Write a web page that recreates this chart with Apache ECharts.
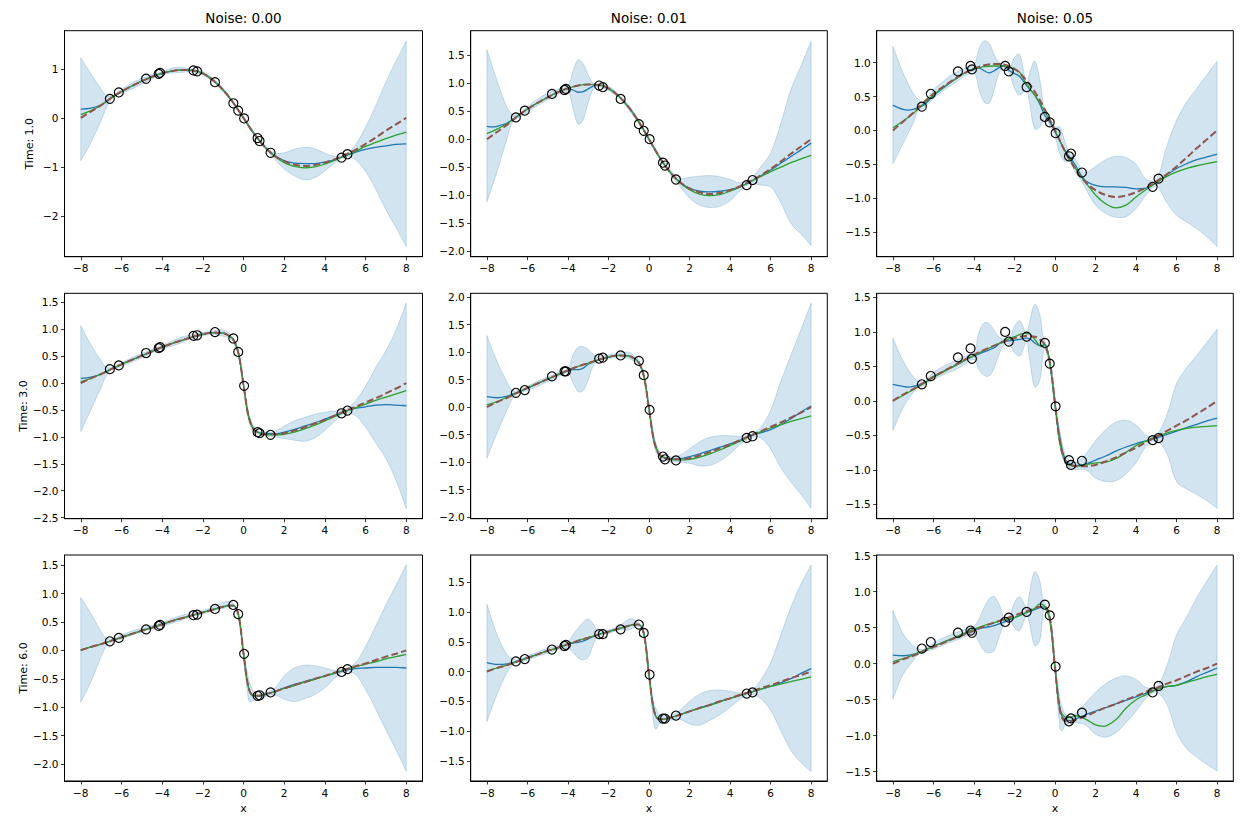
<!DOCTYPE html>
<html><head><meta charset="utf-8">
<script src="https://cdn.jsdelivr.net/npm/echarts@6/dist/echarts.min.js"></script>
<style>html,body{margin:0;padding:0;background:#fff}#c{width:1246px;height:830px}</style>
</head><body><div id="c"></div>
<script>
// ---------- DATA ----------
const X_TICKS = [-8,-6,-4,-2,0,2,4,6,8];
const X_LIM = [-8.8, 8.8];
const COL_TITLES = ['Noise: 0.00','Noise: 0.01','Noise: 0.05'];
const ROW_LABELS = ['Time: 1.0','Time: 3.0','Time: 6.0'];

// observation x positions (same in every panel)
const PX = [-6.57,-6.13,-4.79,-4.17,-4.10,-2.46,-2.28,-1.40,-0.50,-0.26,0.03,0.69,0.79,1.33,4.82,5.11];
const PY_11 = [0.39,0.52,0.80,0.90,0.92,0.97,0.95,0.73,0.30,0.15,-0.01,-0.41,-0.47,-0.71,-0.81,-0.74];
const PY_12 = [0.39,0.51,0.81,0.88,0.90,0.96,0.93,0.72,0.27,0.15,0.00,-0.42,-0.47,-0.72,-0.82,-0.73];
const PY_13 = [0.35,0.54,0.87,0.95,0.90,0.95,0.87,0.64,0.20,0.12,-0.04,-0.38,-0.34,-0.62,-0.83,-0.71];
const PY_21 = [0.26,0.33,0.56,0.65,0.67,0.88,0.89,0.95,0.83,0.58,-0.05,-0.91,-0.93,-0.96,-0.56,-0.51];
const PY_22 = [0.26,0.31,0.56,0.65,0.65,0.88,0.90,0.94,0.84,0.58,-0.05,-0.90,-0.95,-0.97,-0.56,-0.53];
const PY_23 = [0.24,0.36,0.63,0.76,0.61,1.00,0.86,0.93,0.84,0.54,-0.08,-0.86,-0.93,-0.87,-0.57,-0.54];
const PY_31 = [0.16,0.22,0.37,0.43,0.45,0.62,0.63,0.73,0.80,0.64,-0.06,-0.80,-0.79,-0.74,-0.38,-0.33];
const PY_32 = [0.17,0.21,0.37,0.43,0.45,0.63,0.63,0.71,0.79,0.65,-0.05,-0.79,-0.79,-0.74,-0.37,-0.35];
const PY_33 = [0.21,0.30,0.43,0.46,0.43,0.58,0.64,0.72,0.82,0.67,-0.04,-0.80,-0.76,-0.68,-0.40,-0.31];

// true solution (dashed) per time
const TRUE_T1 = [[-8,0.00],[-7.5,0.13],[-7,0.26],[-6.5,0.41],[-6,0.54],[-5.5,0.65],[-5,0.75],[-4.5,0.84],[-4,0.91],[-3.5,0.96],[-3,0.98],[-2.5,0.97],[-2,0.91],[-1.5,0.77],[-1,0.57],[-0.5,0.31],[0,0.00],[0.5,-0.31],[1,-0.57],[1.5,-0.76],[2,-0.88],[2.5,-0.95],[3,-0.98],[3.5,-0.96],[4,-0.91],[4.5,-0.84],[5,-0.75],[5.5,-0.65],[6,-0.53],[6.5,-0.40],[7,-0.26],[7.5,-0.13],[8,0.00]];
const TRUE_T3 = [[-8,0.00],[-7.5,0.09],[-7,0.17],[-6.5,0.26],[-6,0.35],[-5.5,0.43],[-5,0.51],[-4.5,0.59],[-4,0.67],[-3.5,0.74],[-3,0.80],[-2.5,0.86],[-2,0.91],[-1.5,0.94],[-1,0.93],[-0.75,0.89],[-0.5,0.81],[-0.25,0.56],[0,-0.03],[0.25,-0.62],[0.5,-0.86],[0.75,-0.92],[1,-0.95],[1.5,-0.95],[2,-0.93],[2.5,-0.88],[3,-0.82],[3.5,-0.75],[4,-0.68],[4.5,-0.60],[5,-0.52],[5.5,-0.44],[6,-0.36],[6.5,-0.28],[7,-0.19],[7.5,-0.10],[8,0.00]];
const TRUE_T6 = [[-8,0.00],[-7.5,0.06],[-7,0.11],[-6.5,0.17],[-6,0.23],[-5.5,0.29],[-5,0.35],[-4.5,0.40],[-4,0.46],[-3.5,0.52],[-3,0.57],[-2.5,0.62],[-2,0.67],[-1.5,0.72],[-1,0.77],[-0.75,0.79],[-0.5,0.79],[-0.25,0.63],[0,-0.05],[0.25,-0.66],[0.5,-0.80],[0.75,-0.80],[1,-0.78],[1.5,-0.73],[2,-0.67],[2.5,-0.61],[3,-0.56],[3.5,-0.50],[4,-0.45],[4.5,-0.39],[5,-0.34],[5.5,-0.28],[6,-0.23],[6.5,-0.17],[7,-0.11],[7.5,-0.06],[8,0.00]];

// GP mean (blue)
const BLUE_11 = [[-8,0.18],[-7.5,0.20],[-7,0.27],[-6.5,0.41],[-6,0.54],[-5.5,0.65],[-5,0.75],[-4.5,0.84],[-4,0.91],[-3.5,0.96],[-3,0.98],[-2.5,0.97],[-2,0.91],[-1.5,0.77],[-1,0.57],[-0.5,0.31],[0,0.00],[0.5,-0.31],[1,-0.57],[1.5,-0.76],[2,-0.87],[2.5,-0.92],[3,-0.93],[3.5,-0.93],[4,-0.90],[4.5,-0.85],[5,-0.77],[5.5,-0.70],[6,-0.64],[6.5,-0.60],[7,-0.57],[7.5,-0.54],[8,-0.53]];
const BLUE_12 = [[-8,0.23],[-7.75,0.22],[-7.5,0.23],[-7,0.29],[-6.5,0.41],[-6,0.54],[-5.5,0.65],[-5,0.75],[-4.5,0.84],[-4,0.90],[-3.75,0.88],[-3.5,0.84],[-3.25,0.85],[-3,0.90],[-2.75,0.95],[-2.5,0.97],[-2,0.91],[-1.5,0.77],[-1,0.57],[-0.5,0.31],[0,0.00],[0.5,-0.31],[1,-0.57],[1.5,-0.76],[2,-0.88],[2.5,-0.93],[3,-0.94],[3.5,-0.93],[4,-0.90],[4.5,-0.85],[5,-0.76],[5.5,-0.66],[6,-0.55],[6.5,-0.43],[7,-0.31],[7.5,-0.19],[8,-0.07]];
const BLUE_13 = [[-8,0.37],[-7.5,0.31],[-7.25,0.30],[-7,0.31],[-6.5,0.37],[-6,0.51],[-5.5,0.63],[-5,0.74],[-4.5,0.84],[-4,0.91],[-3.75,0.92],[-3.5,0.88],[-3.25,0.85],[-3,0.88],[-2.75,0.93],[-2.5,0.95],[-2.25,0.88],[-2,0.84],[-1.75,0.80],[-1.5,0.70],[-1.25,0.61],[-1,0.52],[-0.75,0.39],[-0.5,0.22],[-0.25,0.12],[0,-0.02],[0.25,-0.16],[0.5,-0.31],[0.75,-0.40],[1,-0.51],[1.25,-0.64],[1.5,-0.74],[2,-0.81],[2.5,-0.83],[3,-0.83],[3.5,-0.84],[4,-0.86],[4.5,-0.85],[5,-0.77],[5.5,-0.66],[6,-0.56],[6.5,-0.49],[7,-0.43],[7.5,-0.39],[8,-0.35]];
const BLUE_21 = [[-8,0.09],[-7.5,0.11],[-7,0.17],[-6.5,0.26],[-6,0.35],[-5.5,0.43],[-5,0.51],[-4.5,0.59],[-4,0.67],[-3.5,0.74],[-3,0.80],[-2.5,0.86],[-2,0.91],[-1.5,0.94],[-1,0.93],[-0.75,0.89],[-0.5,0.81],[-0.25,0.56],[0,-0.03],[0.25,-0.62],[0.5,-0.86],[0.75,-0.92],[1,-0.94],[1.5,-0.94],[2,-0.91],[2.5,-0.86],[3,-0.80],[3.5,-0.74],[4,-0.67],[4.5,-0.60],[5,-0.52],[5.5,-0.47],[6,-0.44],[6.5,-0.41],[7,-0.40],[7.5,-0.41],[8,-0.42]];
const BLUE_22 = [[-8,0.19],[-7.5,0.17],[-7,0.20],[-6.5,0.27],[-6,0.34],[-5.5,0.43],[-5,0.51],[-4.5,0.59],[-4,0.66],[-3.75,0.68],[-3.5,0.68],[-3.25,0.71],[-3,0.78],[-2.5,0.86],[-2,0.91],[-1.5,0.94],[-1,0.93],[-0.75,0.89],[-0.5,0.81],[-0.25,0.56],[0,-0.03],[0.25,-0.62],[0.5,-0.86],[0.75,-0.92],[1,-0.94],[1.5,-0.94],[2,-0.90],[2.5,-0.85],[3,-0.79],[3.5,-0.73],[4,-0.67],[4.5,-0.60],[5,-0.52],[5.5,-0.47],[6,-0.41],[6.5,-0.32],[7,-0.21],[7.5,-0.09],[8,0.02]];
const BLUE_23 = [[-8,0.24],[-7.5,0.21],[-7.25,0.20],[-7,0.21],[-6.5,0.25],[-6,0.35],[-5.5,0.43],[-5,0.50],[-4.5,0.58],[-4,0.65],[-3.5,0.71],[-3,0.77],[-2.5,0.87],[-2.25,0.87],[-2,0.88],[-1.75,0.89],[-1.5,0.91],[-1.25,0.90],[-1,0.84],[-0.75,0.80],[-0.5,0.81],[-0.25,0.53],[0,-0.05],[0.25,-0.55],[0.5,-0.85],[0.75,-0.92],[1,-0.94],[1.5,-0.92],[2,-0.86],[2.5,-0.80],[3,-0.73],[3.5,-0.67],[4,-0.62],[4.5,-0.58],[5,-0.54],[5.5,-0.49],[6,-0.44],[6.5,-0.39],[7,-0.34],[7.5,-0.29],[8,-0.25]];
const BLUE_31 = [[-8,0.01],[-7.5,0.06],[-7,0.11],[-6.5,0.17],[-6,0.23],[-5.5,0.29],[-5,0.35],[-4.5,0.40],[-4,0.46],[-3.5,0.52],[-3,0.57],[-2.5,0.62],[-2,0.67],[-1.5,0.72],[-1,0.77],[-0.75,0.79],[-0.5,0.79],[-0.25,0.63],[0,-0.05],[0.25,-0.66],[0.5,-0.80],[0.75,-0.80],[1,-0.78],[1.5,-0.73],[2,-0.66],[2.5,-0.60],[3,-0.55],[3.5,-0.50],[4,-0.45],[4.5,-0.40],[5,-0.35],[5.5,-0.32],[6,-0.31],[6.5,-0.30],[7,-0.30],[7.5,-0.30],[8,-0.31]];
const BLUE_32 = [[-8,0.15],[-7.5,0.12],[-7,0.13],[-6.5,0.17],[-6,0.23],[-5.5,0.29],[-5,0.35],[-4.5,0.40],[-4,0.46],[-3.75,0.48],[-3.5,0.49],[-3.25,0.51],[-3,0.55],[-2.5,0.62],[-2,0.67],[-1.5,0.72],[-1,0.77],[-0.75,0.79],[-0.5,0.79],[-0.25,0.63],[0,-0.05],[0.25,-0.66],[0.5,-0.80],[0.75,-0.80],[1,-0.78],[1.5,-0.73],[2,-0.67],[2.5,-0.61],[3,-0.56],[3.5,-0.50],[4,-0.45],[4.5,-0.40],[5,-0.35],[5.5,-0.30],[6,-0.25],[6.5,-0.19],[7,-0.12],[7.5,-0.03],[8,0.05]];
const BLUE_33 = [[-8,0.12],[-7.5,0.11],[-7,0.13],[-6.5,0.18],[-6,0.24],[-5.5,0.30],[-5,0.35],[-4.5,0.41],[-4,0.47],[-3.5,0.50],[-3,0.53],[-2.5,0.58],[-2,0.64],[-1.5,0.70],[-1,0.75],[-0.75,0.78],[-0.5,0.79],[-0.25,0.62],[0,-0.05],[0.25,-0.65],[0.5,-0.78],[0.75,-0.79],[1,-0.77],[1.5,-0.71],[2,-0.66],[2.5,-0.61],[3,-0.56],[3.5,-0.51],[4,-0.46],[4.5,-0.41],[5,-0.36],[5.5,-0.32],[6,-0.30],[6.5,-0.25],[7,-0.18],[7.5,-0.12],[8,-0.06]];

// second model (green)
const GREEN_11 = [[-8,0.07],[-7.5,0.15],[-7,0.26],[-6.5,0.41],[-6,0.54],[-5.5,0.65],[-5,0.75],[-4.5,0.84],[-4,0.91],[-3.5,0.96],[-3,0.98],[-2.5,0.97],[-2,0.91],[-1.5,0.77],[-1,0.57],[-0.5,0.31],[0,0.00],[0.5,-0.31],[1,-0.57],[1.5,-0.77],[2,-0.91],[2.5,-0.99],[3,-1.02],[3.5,-1.00],[4,-0.94],[4.5,-0.86],[5,-0.77],[5.5,-0.68],[6,-0.58],[6.5,-0.50],[7,-0.42],[7.5,-0.35],[8,-0.29]];
const GREEN_12 = [[-8,0.10],[-7.5,0.18],[-7,0.28],[-6.5,0.41],[-6,0.54],[-5.5,0.65],[-5,0.75],[-4.5,0.84],[-4,0.91],[-3.5,0.96],[-3,0.98],[-2.5,0.97],[-2,0.91],[-1.5,0.77],[-1,0.57],[-0.5,0.31],[0,0.00],[0.5,-0.31],[1,-0.57],[1.5,-0.77],[2,-0.90],[2.5,-0.98],[3,-1.01],[3.5,-0.99],[4,-0.93],[4.5,-0.85],[5,-0.76],[5.5,-0.67],[6,-0.58],[6.5,-0.50],[7,-0.42],[7.5,-0.35],[8,-0.29]];
const GREEN_13 = [[-8,0.04],[-7.5,0.14],[-7,0.25],[-6.5,0.39],[-6,0.52],[-5.5,0.64],[-5,0.74],[-4.5,0.84],[-4,0.91],[-3.5,0.94],[-3,0.95],[-2.5,0.95],[-2,0.90],[-1.75,0.86],[-1.5,0.73],[-1.25,0.62],[-1,0.52],[-0.5,0.28],[0,0.00],[0.5,-0.30],[1,-0.55],[1.5,-0.76],[2,-0.95],[2.5,-1.08],[3,-1.14],[3.5,-1.10],[4,-0.98],[4.5,-0.87],[5,-0.77],[5.5,-0.68],[6,-0.61],[6.5,-0.56],[7,-0.52],[7.5,-0.49],[8,-0.46]];
const GREEN_21 = [[-8,0.03],[-7.5,0.09],[-7,0.17],[-6.5,0.26],[-6,0.35],[-5.5,0.43],[-5,0.51],[-4.5,0.59],[-4,0.67],[-3.5,0.74],[-3,0.80],[-2.5,0.86],[-2,0.91],[-1.5,0.94],[-1,0.93],[-0.75,0.89],[-0.5,0.81],[-0.25,0.56],[0,-0.03],[0.25,-0.62],[0.5,-0.86],[0.75,-0.92],[1,-0.95],[1.5,-0.96],[2,-0.95],[2.5,-0.91],[3,-0.85],[3.5,-0.78],[4,-0.70],[4.5,-0.62],[5,-0.53],[5.5,-0.46],[6,-0.39],[6.5,-0.32],[7,-0.26],[7.5,-0.20],[8,-0.14]];
const GREEN_22 = [[-8,0.04],[-7.5,0.10],[-7,0.18],[-6.5,0.26],[-6,0.35],[-5.5,0.43],[-5,0.51],[-4.5,0.59],[-4,0.67],[-3.5,0.74],[-3,0.80],[-2.5,0.86],[-2,0.91],[-1.5,0.94],[-1,0.93],[-0.75,0.89],[-0.5,0.81],[-0.25,0.56],[0,-0.03],[0.25,-0.62],[0.5,-0.86],[0.75,-0.92],[1,-0.95],[1.5,-0.96],[2,-0.95],[2.5,-0.91],[3,-0.85],[3.5,-0.78],[4,-0.70],[4.5,-0.62],[5,-0.53],[5.5,-0.45],[6,-0.38],[6.5,-0.32],[7,-0.26],[7.5,-0.21],[8,-0.16]];
const GREEN_23 = [[-8,0.00],[-7.5,0.08],[-7,0.16],[-6.5,0.25],[-6,0.34],[-5.5,0.42],[-5,0.50],[-4.5,0.58],[-4,0.66],[-3.5,0.73],[-3,0.80],[-2.5,0.87],[-2,0.93],[-1.75,0.96],[-1.5,0.98],[-1.25,0.97],[-1,0.89],[-0.75,0.80],[-0.6,0.79],[-0.5,0.82],[-0.25,0.55],[0,-0.05],[0.25,-0.62],[0.5,-0.88],[0.75,-0.94],[1,-0.95],[1.5,-0.93],[2,-0.90],[2.5,-0.89],[3,-0.84],[3.5,-0.75],[4,-0.65],[4.5,-0.58],[5,-0.52],[5.5,-0.47],[6,-0.43],[6.5,-0.40],[7,-0.38],[7.5,-0.37],[8,-0.36]];
const GREEN_31 = [[-8,0.01],[-7.5,0.06],[-7,0.11],[-6.5,0.17],[-6,0.23],[-5.5,0.29],[-5,0.35],[-4.5,0.40],[-4,0.46],[-3.5,0.52],[-3,0.57],[-2.5,0.62],[-2,0.67],[-1.5,0.72],[-1,0.77],[-0.75,0.79],[-0.5,0.79],[-0.25,0.63],[0,-0.05],[0.25,-0.66],[0.5,-0.80],[0.75,-0.80],[1,-0.78],[1.5,-0.73],[2,-0.67],[2.5,-0.62],[3,-0.56],[3.5,-0.51],[4,-0.45],[4.5,-0.40],[5,-0.34],[5.5,-0.29],[6,-0.24],[6.5,-0.20],[7,-0.15],[7.5,-0.11],[8,-0.07]];
const GREEN_32 = [[-8,0.01],[-7.5,0.06],[-7,0.11],[-6.5,0.17],[-6,0.23],[-5.5,0.29],[-5,0.35],[-4.5,0.40],[-4,0.46],[-3.5,0.52],[-3,0.57],[-2.5,0.62],[-2,0.67],[-1.5,0.72],[-1,0.77],[-0.75,0.79],[-0.5,0.79],[-0.25,0.63],[0,-0.05],[0.25,-0.66],[0.5,-0.80],[0.75,-0.80],[1,-0.78],[1.5,-0.73],[2,-0.67],[2.5,-0.62],[3,-0.57],[3.5,-0.51],[4,-0.45],[4.5,-0.40],[5,-0.35],[5.5,-0.30],[6,-0.25],[6.5,-0.21],[7,-0.17],[7.5,-0.13],[8,-0.09]];
const GREEN_33 = [[-8,0.03],[-7.5,0.07],[-7,0.12],[-6.5,0.18],[-6,0.24],[-5.5,0.30],[-5,0.36],[-4.5,0.42],[-4,0.48],[-3.5,0.53],[-3,0.57],[-2.5,0.61],[-2,0.64],[-1.5,0.70],[-1,0.77],[-0.75,0.83],[-0.5,0.79],[-0.25,0.60],[0,-0.05],[0.25,-0.62],[0.5,-0.74],[0.75,-0.75],[1,-0.72],[1.5,-0.77],[2,-0.85],[2.4,-0.87],[3,-0.78],[3.5,-0.62],[4,-0.50],[4.5,-0.43],[5,-0.36],[5.5,-0.32],[6,-0.30],[6.5,-0.26],[7,-0.22],[7.5,-0.18],[8,-0.15]];

// confidence band [x, lower, upper]
const BAND_11 = [[-8,-0.87,1.23],[-7.5,-0.50,0.90],[-7,-0.05,0.59],[-6.75,0.20,0.46],[-6.5,0.38,0.44],[-6.3,0.45,0.50],[-6,0.50,0.58],[-5.5,0.59,0.71],[-5,0.69,0.81],[-4.5,0.80,0.88],[-4,0.88,0.94],[-3.5,0.92,1.02],[-3,0.93,1.03],[-2.5,0.94,0.99],[-2,0.87,0.95],[-1.5,0.74,0.80],[-1,0.53,0.61],[-0.5,0.28,0.33],[0,-0.03,0.03],[0.5,-0.34,-0.28],[1,-0.60,-0.53],[1.5,-0.82,-0.71],[2,-1.04,-0.71],[2.5,-1.18,-0.64],[3,-1.26,-0.60],[3.5,-1.22,-0.63],[4,-1.08,-0.72],[4.5,-0.92,-0.78],[5,-0.79,-0.74],[5.5,-0.85,-0.55],[6,-1.09,-0.19],[6.5,-1.45,0.25],[7,-1.87,0.73],[7.5,-2.24,1.16],[8,-2.62,1.57]];
const BAND_12 = [[-8,-1.12,1.60],[-7.5,-0.58,1.05],[-7,0.02,0.56],[-6.75,0.30,0.45],[-6.5,0.37,0.44],[-6,0.48,0.58],[-5.5,0.60,0.72],[-5,0.70,0.82],[-4.5,0.80,0.89],[-4,0.84,0.96],[-3.75,0.55,1.22],[-3.5,0.27,1.42],[-3.25,0.35,1.35],[-3,0.65,1.15],[-2.75,0.90,1.00],[-2.5,0.94,0.99],[-2,0.87,0.95],[-1.5,0.74,0.80],[-1,0.53,0.61],[-0.5,0.27,0.34],[0,-0.03,0.03],[0.5,-0.34,-0.28],[1,-0.61,-0.53],[1.5,-0.83,-0.70],[2,-1.05,-0.68],[2.5,-1.18,-0.66],[3,-1.22,-0.65],[3.5,-1.20,-0.67],[4,-1.10,-0.72],[4.5,-0.92,-0.78],[5,-0.79,-0.72],[5.5,-0.82,-0.50],[6,-0.85,-0.25],[6.5,-1.13,0.27],[7,-1.50,0.88],[7.5,-1.69,1.31],[8,-1.90,1.75]];
const BAND_13 = [[-8,-0.49,1.24],[-7.5,-0.19,0.85],[-7,0.11,0.55],[-6.75,0.30,0.46],[-6.5,0.33,0.41],[-6,0.47,0.60],[-5.5,0.59,0.73],[-5,0.69,0.84],[-4.5,0.79,0.91],[-4,0.86,0.97],[-3.75,0.60,1.20],[-3.5,0.42,1.32],[-3.25,0.40,1.28],[-3,0.60,1.12],[-2.75,0.85,1.00],[-2.5,0.92,0.98],[-2.25,0.84,0.92],[-2,0.62,1.08],[-1.75,0.52,1.12],[-1.5,0.58,0.80],[-1.4,0.62,0.68],[-1.25,0.40,0.85],[-1,0.02,1.02],[-0.75,0.05,0.75],[-0.5,0.18,0.26],[-0.25,0.08,0.16],[0,-0.08,0.05],[0.25,-0.35,0.05],[0.5,-0.46,-0.18],[0.75,-0.45,-0.35],[1,-0.62,-0.42],[1.25,-0.72,-0.55],[1.5,-0.85,-0.62],[2,-1.10,-0.53],[2.5,-1.22,-0.43],[3,-1.28,-0.38],[3.5,-1.27,-0.40],[4,-1.15,-0.50],[4.5,-0.95,-0.72],[5,-0.82,-0.72],[5.5,-1.05,-0.25],[6,-1.25,0.15],[6.5,-1.35,0.42],[7,-1.45,0.62],[7.5,-1.57,0.82],[8,-1.71,1.02]];
const BAND_21 = [[-8,-0.90,1.07],[-7.5,-0.49,0.71],[-7,-0.08,0.42],[-6.75,0.14,0.30],[-6.5,0.25,0.29],[-6,0.31,0.38],[-5.5,0.39,0.47],[-5,0.47,0.55],[-4.5,0.56,0.63],[-4,0.64,0.70],[-3.5,0.69,0.79],[-3,0.76,0.86],[-2.5,0.84,0.90],[-2,0.88,0.94],[-1.5,0.91,0.97],[-1,0.87,0.99],[-0.75,0.84,0.94],[-0.5,0.77,0.83],[-0.25,0.52,0.60],[0,-0.08,0.02],[0.25,-0.68,-0.55],[0.5,-0.92,-0.80],[0.75,-0.95,-0.89],[1,-0.98,-0.91],[1.5,-1.00,-0.90],[2,-1.03,-0.80],[2.5,-1.06,-0.70],[3,-1.08,-0.64],[3.5,-1.02,-0.58],[4,-0.88,-0.54],[4.5,-0.70,-0.52],[5,-0.56,-0.49],[5.5,-0.60,-0.33],[6,-0.82,-0.06],[6.5,-1.11,0.29],[7,-1.40,0.60],[7.5,-1.81,0.99],[8,-2.33,1.49]];
const BAND_22 = [[-8,-0.93,1.30],[-7.5,-0.47,0.83],[-7,-0.05,0.45],[-6.75,0.15,0.31],[-6.5,0.25,0.30],[-6,0.30,0.38],[-5.5,0.38,0.47],[-5,0.46,0.55],[-4.5,0.55,0.63],[-4,0.62,0.70],[-3.75,0.45,0.95],[-3.5,0.28,1.09],[-3.25,0.30,1.10],[-3,0.50,1.05],[-2.75,0.75,0.96],[-2.5,0.84,0.91],[-2,0.88,0.95],[-1.5,0.91,0.98],[-1,0.88,1.00],[-0.75,0.84,0.94],[-0.5,0.77,0.85],[-0.25,0.52,0.60],[0,-0.09,0.03],[0.25,-0.70,-0.53],[0.5,-0.93,-0.80],[0.75,-0.96,-0.89],[1,-0.99,-0.91],[1.5,-1.00,-0.88],[2,-1.02,-0.76],[2.5,-1.07,-0.63],[3,-1.06,-0.55],[3.5,-0.98,-0.52],[4,-0.85,-0.52],[4.5,-0.68,-0.53],[5,-0.56,-0.50],[5.5,-0.56,-0.38],[6,-0.76,-0.06],[6.5,-1.10,0.46],[7,-1.36,0.94],[7.5,-1.59,1.41],[8,-1.84,1.89]];
const BAND_23 = [[-8,-0.43,0.91],[-7.5,-0.10,0.58],[-7,0.12,0.35],[-6.75,0.19,0.29],[-6.5,0.22,0.28],[-6,0.31,0.41],[-5.5,0.38,0.50],[-5,0.44,0.57],[-4.5,0.52,0.64],[-4,0.60,0.72],[-3.75,0.45,1.00],[-3.5,0.37,1.13],[-3.25,0.36,1.12],[-3,0.48,1.02],[-2.75,0.68,0.92],[-2.5,0.83,0.90],[-2.25,0.82,0.92],[-2,0.70,1.08],[-1.75,0.65,1.16],[-1.5,0.80,1.02],[-1.4,0.88,0.96],[-1.25,0.60,1.15],[-1,0.20,1.40],[-0.75,0.30,1.25],[-0.6,0.65,0.95],[-0.5,0.76,0.87],[-0.25,0.47,0.60],[0,-0.12,0.02],[0.25,-0.65,-0.45],[0.5,-0.92,-0.78],[0.75,-0.98,-0.87],[1,-1.00,-0.90],[1.5,-1.00,-0.78],[2,-1.12,-0.58],[2.5,-1.17,-0.42],[3,-1.16,-0.31],[3.5,-1.06,-0.28],[4,-0.90,-0.35],[4.5,-0.66,-0.50],[5,-0.58,-0.50],[5.5,-0.75,-0.22],[6,-1.17,0.25],[6.5,-1.28,0.48],[7,-1.36,0.66],[7.5,-1.45,0.85],[8,-1.56,1.04]];
const BAND_31 = [[-8,-0.91,0.93],[-7.5,-0.55,0.65],[-7,-0.11,0.33],[-6.75,0.07,0.22],[-6.5,0.15,0.20],[-6,0.20,0.27],[-5.5,0.27,0.34],[-5,0.32,0.39],[-4.5,0.38,0.44],[-4,0.43,0.49],[-3.5,0.48,0.56],[-3,0.54,0.62],[-2.5,0.60,0.66],[-2,0.64,0.70],[-1.5,0.70,0.76],[-1,0.74,0.85],[-0.75,0.77,0.86],[-0.5,0.77,0.82],[-0.25,0.58,0.66],[0,-0.10,0.00],[0.25,-0.88,-0.50],[0.35,-0.91,-0.62],[0.5,-0.88,-0.72],[0.75,-0.83,-0.77],[1,-0.82,-0.75],[1.5,-0.78,-0.68],[2,-0.86,-0.45],[2.5,-0.90,-0.31],[3,-0.85,-0.26],[3.5,-0.78,-0.27],[4,-0.66,-0.31],[4.5,-0.48,-0.35],[5,-0.37,-0.32],[5.5,-0.42,-0.22],[6,-0.69,0.07],[6.5,-1.03,0.43],[7,-1.40,0.80],[7.5,-1.75,1.15],[8,-2.13,1.51]];
const BAND_32 = [[-8,-0.84,1.13],[-7.5,-0.38,0.62],[-7,-0.01,0.28],[-6.75,0.11,0.22],[-6.5,0.15,0.20],[-6,0.19,0.26],[-5.5,0.26,0.33],[-5,0.31,0.39],[-4.5,0.37,0.44],[-4,0.40,0.50],[-3.75,0.32,0.62],[-3.5,0.23,0.73],[-3.25,0.20,0.83],[-3,0.24,0.88],[-2.75,0.45,0.80],[-2.5,0.60,0.66],[-2,0.64,0.70],[-1.5,0.70,0.76],[-1,0.70,0.88],[-0.75,0.74,0.88],[-0.5,0.76,0.82],[-0.25,0.59,0.67],[0,-0.10,0.00],[0.25,-0.92,-0.55],[0.35,-0.97,-0.62],[0.5,-0.88,-0.72],[0.75,-0.83,-0.76],[1,-0.82,-0.75],[1.5,-0.80,-0.66],[2,-0.88,-0.50],[2.5,-0.90,-0.38],[3,-0.82,-0.32],[3.5,-0.72,-0.31],[4,-0.60,-0.33],[4.5,-0.46,-0.36],[5,-0.38,-0.33],[5.5,-0.45,-0.15],[6,-0.65,0.15],[6.5,-0.99,0.61],[7,-1.32,1.08],[7.5,-1.53,1.47],[8,-1.68,1.79]];
const BAND_33 = [[-8,-0.49,0.74],[-7.5,-0.15,0.42],[-7,0.04,0.25],[-6.75,0.13,0.21],[-6.5,0.16,0.20],[-6,0.20,0.29],[-5.5,0.26,0.36],[-5,0.31,0.42],[-4.5,0.37,0.47],[-4,0.42,0.52],[-3.75,0.30,0.62],[-3.5,0.18,0.78],[-3.25,0.15,0.90],[-3,0.18,0.93],[-2.75,0.38,0.82],[-2.5,0.55,0.64],[-2.25,0.60,0.66],[-2,0.50,0.85],[-1.75,0.46,0.93],[-1.5,0.62,0.82],[-1.4,0.69,0.74],[-1.25,0.55,1.00],[-1,0.25,1.28],[-0.75,0.32,1.15],[-0.6,0.65,0.90],[-0.5,0.76,0.84],[-0.25,0.56,0.68],[0,-0.12,0.02],[0.25,-0.90,-0.50],[0.35,-0.93,-0.60],[0.5,-0.86,-0.70],[0.75,-0.82,-0.74],[1,-0.82,-0.70],[1.5,-0.85,-0.55],[2,-0.98,-0.40],[2.5,-1.02,-0.28],[3,-0.96,-0.20],[3.5,-0.82,-0.17],[4,-0.66,-0.22],[4.5,-0.48,-0.33],[5,-0.40,-0.32],[5.5,-0.55,-0.05],[6,-0.95,0.40],[6.5,-1.18,0.65],[7,-1.30,0.92],[7.5,-1.40,1.15],[8,-1.49,1.37]];

// y-axis limits and ticks per panel
const Y_LIMS = [[-2.83,1.78],[-2.10,1.94],[-1.86,1.47],[-2.52,1.67],[-2.03,2.07],[-1.71,1.56],[-2.30,1.68],[-1.84,1.96],[-1.63,1.51]];
const Y_TICKS = [
  [-2,-1,0,1],
  [-2,-1.5,-1,-0.5,0,0.5,1,1.5],
  [-1.5,-1,-0.5,0,0.5,1],
  [-2.5,-2,-1.5,-1,-0.5,0,0.5,1,1.5],
  [-2,-1.5,-1,-0.5,0,0.5,1,1.5,2],
  [-1.5,-1,-0.5,0,0.5,1,1.5],
  [-2,-1.5,-1,-0.5,0,0.5,1,1.5],
  [-1.5,-1,-0.5,0,0.5,1,1.5],
  [-1.5,-1,-0.5,0,0.5,1,1.5]
];
const Y_DEC = [0,1,1,1,1,1,1,1,1];

const PANELS = [
  {band:BAND_11, blue:BLUE_11, green:GREEN_11, truth:TRUE_T1, py:PY_11},
  {band:BAND_12, blue:BLUE_12, green:GREEN_12, truth:TRUE_T1, py:PY_12},
  {band:BAND_13, blue:BLUE_13, green:GREEN_13, truth:TRUE_T1, py:PY_13},
  {band:BAND_21, blue:BLUE_21, green:GREEN_21, truth:TRUE_T3, py:PY_21},
  {band:BAND_22, blue:BLUE_22, green:GREEN_22, truth:TRUE_T3, py:PY_22},
  {band:BAND_23, blue:BLUE_23, green:GREEN_23, truth:TRUE_T3, py:PY_23},
  {band:BAND_31, blue:BLUE_31, green:GREEN_31, truth:TRUE_T6, py:PY_31},
  {band:BAND_32, blue:BLUE_32, green:GREEN_32, truth:TRUE_T6, py:PY_32},
  {band:BAND_33, blue:BLUE_33, green:GREEN_33, truth:TRUE_T6, py:PY_33}
];

// ---------- LAYOUT ----------
const GL = [64.5, 470.7, 876.7];
const GW = [358, 356.6, 356.6];
const GT = [30.7, 293.3, 555];
const GH = [226, 225.4, 226];
const FONT = 'DejaVu Sans';

function fmt(v, d) {
  const s = Math.abs(v).toFixed(d);
  return (v < 0 ? '\u2212' : '') + s;
}

const grids = [], xAxes = [], yAxes = [], series = [], titles = [];
for (let i = 0; i < 9; i++) {
  const r = Math.floor(i / 3), c = i % 3;
  grids.push({left: GL[c], top: GT[r], width: GW[c], height: GH[r], show: true,
    borderColor: '#000', borderWidth: 1, backgroundColor: 'transparent', containLabel: false, outerBoundsMode: 'none'});
  xAxes.push({type: 'value', gridIndex: i, min: X_LIM[0], max: X_LIM[1],
    name: r === 2 ? 'x' : '', nameLocation: 'middle', nameGap: 22,
    nameTextStyle: {fontFamily: FONT, fontSize: 11, color: '#000'},
    axisLine: {show: true, onZero: false, lineStyle: {color: '#000', width: 1}},
    axisTick: {show: true, inside: false, length: 3.5, lineStyle: {color: '#000', width: 0.8}, customValues: X_TICKS},
    axisLabel: {show: true, margin: 6, color: '#000', fontFamily: FONT, fontSize: 10.5, customValues: X_TICKS,
      formatter: v => fmt(v, 0)},
    splitLine: {show: false}});
  const dec = Y_DEC[i];
  yAxes.push({type: 'value', gridIndex: i, min: Y_LIMS[i][0], max: Y_LIMS[i][1],
    name: c === 0 ? ROW_LABELS[r] : '', nameLocation: 'middle', nameGap: 30, nameRotate: 90,
    nameTextStyle: {fontFamily: FONT, fontSize: 11, color: '#000'},
    axisLine: {show: true, onZero: false, lineStyle: {color: '#000', width: 1}},
    axisTick: {show: true, inside: false, length: 3.5, lineStyle: {color: '#000', width: 0.8}, customValues: Y_TICKS[i]},
    axisLabel: {show: true, margin: 6, color: '#000', fontFamily: FONT, fontSize: 10.5, customValues: Y_TICKS[i],
      formatter: v => fmt(v, dec)},
    splitLine: {show: false}});

  const p = PANELS[i];
  series.push({
    type: 'custom', xAxisIndex: i, yAxisIndex: i, data: p.band, encode: {x: 0, y: [1, 2]},
    silent: true, z: 1,
    renderItem: function (params, api) {
      if (params.dataIndex !== 0) return null;
      const up = p.band.map(b => api.coord([b[0], b[2]]));
      const lo = p.band.map(b => api.coord([b[0], b[1]])).reverse();
      const pts = [up[0]].concat(up, [up[up.length - 1], lo[0]], lo, [lo[lo.length - 1]]);
      return {type: 'polygon', shape: {points: pts, smooth: 0.35},
        style: {fill: 'rgba(31,119,180,0.2)', stroke: 'rgba(31,119,180,0.22)', lineWidth: 1}};
    }
  });
  series.push({type: 'line', xAxisIndex: i, yAxisIndex: i, data: p.blue, smooth: 0.35, symbol: 'none',
    silent: true, z: 2, lineStyle: {color: '#1f77b4', width: 1.3}});
  series.push({type: 'line', xAxisIndex: i, yAxisIndex: i, data: p.green, smooth: 0.35, symbol: 'none',
    silent: true, z: 3, lineStyle: {color: '#2ca02c', width: 1.3}});
  series.push({type: 'line', xAxisIndex: i, yAxisIndex: i, data: p.truth, smooth: 0.35, symbol: 'none',
    silent: true, z: 4, lineStyle: {color: '#8c564b', width: 2, type: [7, 3.2]}});
  series.push({type: 'scatter', xAxisIndex: i, yAxisIndex: i, data: PX.map((x, k) => [x, p.py[k]]),
    symbol: 'circle', symbolSize: 9, silent: true, z: 5,
    itemStyle: {color: 'transparent', borderColor: '#000', borderWidth: 1.15, opacity: 1}});
}
for (let c = 0; c < 3; c++) {
  titles.push({text: COL_TITLES[c], left: GL[c] + GW[c] / 2, top: 11, textAlign: 'center', padding: 0,
    textStyle: {fontFamily: FONT, fontSize: 13.5, fontWeight: 'normal', color: '#000'}});
}

const chart = echarts.init(document.getElementById('c'), null, {renderer: 'svg', width: 1246, height: 830});
chart.setOption({
  backgroundColor: '#fff',
  animation: false,
  title: titles,
  grid: grids,
  xAxis: xAxes,
  yAxis: yAxes,
  series: series
});
</script></body></html>
